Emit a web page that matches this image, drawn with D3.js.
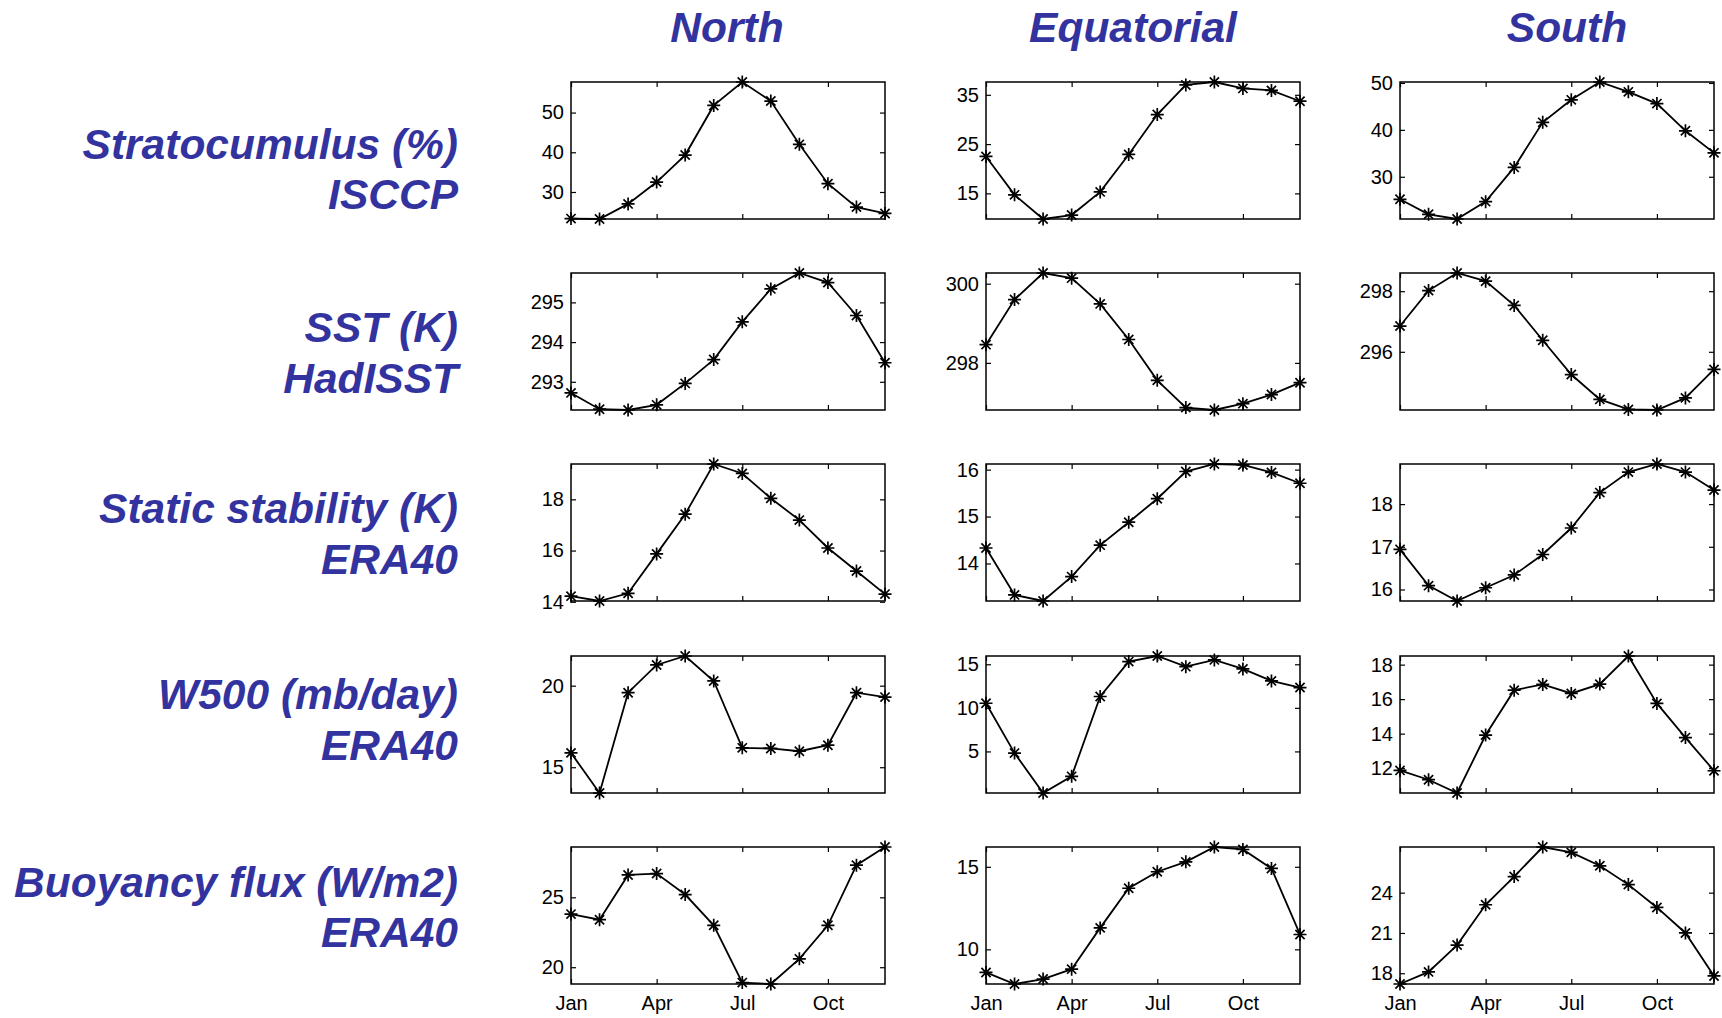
<!DOCTYPE html>
<html>
<head>
<meta charset="utf-8">
<script src="https://cdn.jsdelivr.net/npm/d3@7/dist/d3.min.js"></script>
<style>
  body { margin: 0; background: #fff; }
  svg text { font-family: "Liberation Sans", Arial, Helvetica, sans-serif; }
  .title { font-weight: bold; font-style: italic; fill: #3333a0; font-size: 42.5px; }
  .tick text { font-size: 20px; fill: #000; }
</style>
</head>
<body>
<div id="chart"></div>
<script>
// month axis
var months = ["Jan","Feb","Mar","Apr","May","Jun","Jul","Aug","Sep","Oct","Nov","Dec"];
var monthTicks = ["Jan","Apr","Jul","Oct"];

// column / row labels
var regions = ["North","Equatorial","South"];
var variables = ["Stratocumulus (%)","SST (K)","Static stability (K)","W500 (mb/day)","Buoyancy flux (W/m2)"];
var sources = ["ISCCP","HadISST","ERA40","ERA40","ERA40"];

// seasonal cycles, one array per panel (Jan..Dec)
var stratoNorth = [23.3,23.2,27.0,32.5,39.3,51.8,57.7,52.9,42.0,32.1,26.2,24.6];
var stratoEquatorial = [22.5,14.7,9.8,10.6,15.3,22.9,31.0,37.0,37.6,36.3,35.9,33.7];
var stratoSouth = [25.2,22.0,21.0,24.7,32.0,41.6,46.4,50.2,48.1,45.6,39.8,35.1];

var sstNorth = [292.72,292.31,292.29,292.42,292.96,293.56,294.51,295.34,295.74,295.50,294.67,293.48];
var sstEquatorial = [298.46,299.60,300.27,300.14,299.49,298.59,297.56,296.87,296.81,296.97,297.20,297.50];
var sstSouth = [296.85,298.02,298.60,298.33,297.53,296.38,295.25,294.43,294.10,294.08,294.48,295.42];

var stabNorth = [14.22,14.03,14.33,15.87,17.42,19.38,19.01,18.04,17.19,16.10,15.20,14.30];
var stabEquatorial = [14.33,13.33,13.20,13.72,14.39,14.88,15.38,15.96,16.12,16.10,15.94,15.71];
var stabSouth = [16.94,16.09,15.73,16.04,16.34,16.82,17.44,18.27,18.75,18.94,18.75,18.33];

var w500North = [15.88,13.42,19.57,21.27,21.82,20.29,16.19,16.15,15.98,16.35,19.57,19.30];
var w500Equatorial = [10.53,4.81,0.23,2.14,11.30,15.31,15.95,14.73,15.50,14.47,13.09,12.33];
var w500South = [11.87,11.33,10.56,13.92,16.52,16.85,16.33,16.87,18.50,15.75,13.77,11.85];

var buoyNorth = [23.8,23.4,26.6,26.7,25.2,23.0,18.9,18.8,20.6,23.0,27.3,28.6];
var buoyEquatorial = [8.6,7.9,8.2,8.8,11.3,13.7,14.7,15.3,16.2,16.05,14.9,10.9];
var buoySouth = [17.2,18.1,20.1,23.1,25.2,27.4,27.0,26.0,24.6,22.9,21.0,17.8];

// y tick values per panel
var stratoTicks = [[30,40,50],[15,25,35],[30,40,50]];
var sstTicks = [[293,294,295],[298,300],[296,298]];
var stabTicks = [[14,16,18],[14,15,16],[16,17,18]];
var w500Ticks = [[15,20],[5,10,15],[12,14,16,18]];
var buoyTicks = [[20,25],[10,15],[18,21,24]];

var panels = [
  [stratoNorth, stratoEquatorial, stratoSouth],
  [sstNorth, sstEquatorial, sstSouth],
  [stabNorth, stabEquatorial, stabSouth],
  [w500North, w500Equatorial, w500South],
  [buoyNorth, buoyEquatorial, buoySouth]
];
var panelTicks = [stratoTicks, sstTicks, stabTicks, w500Ticks, buoyTicks];

var width = 1722, height = 1018;
var plotW = 314, plotH = 137;
var colLeft = [571, 986, 1400];
var rowTop = [82, 273, 464, 656, 847];
var titleX = [727, 1133, 1567];
var labelY1 = [144, 327, 508, 694, 882];
var labelY2 = [194, 378, 559, 745, 932];

var svg = d3.select("#chart").append("svg")
    .attr("width", width)
    .attr("height", height);

// column titles
svg.selectAll(".coltitle")
    .data(regions)
    .enter().append("text")
    .attr("class", "title coltitle")
    .attr("x", function(d, i){ return titleX[i]; })
    .attr("y", 27)
    .attr("dy", "0.36em")
    .attr("text-anchor", "middle")
    .text(function(d){ return d; });

// row labels
variables.forEach(function(v, i){
    svg.append("text")
        .attr("class", "title")
        .attr("x", 458)
        .attr("y", labelY1[i])
        .attr("dy", "0.36em")
        .attr("text-anchor", "end")
        .text(v);
    svg.append("text")
        .attr("class", "title")
        .attr("x", 458)
        .attr("y", labelY2[i])
        .attr("dy", "0.36em")
        .attr("text-anchor", "end")
        .text(sources[i]);
});

var x = d3.scalePoint().domain(months).range([0, plotW]);
var fmt = d3.format("~g");

// asterisk marker like matlab '*'
function asterisk(r){
    var d = r * Math.SQRT1_2;
    return "M" + (-r) + ",0L" + r + ",0" +
           "M0," + (-r) + "L0," + r +
           "M" + (-d) + "," + (-d) + "L" + d + "," + d +
           "M" + (-d) + "," + d + "L" + d + "," + (-d);
}

panels.forEach(function(row, i){
    row.forEach(function(values, j){
        var g = svg.append("g")
            .attr("transform", "translate(" + colLeft[j] + "," + rowTop[i] + ")");

        // tight y range like matlab "axis tight"
        var y = d3.scaleLinear()
            .domain(d3.extent(values))
            .range([plotH, 0]);

        var ticks = panelTicks[i][j];

        g.append("g")
            .call(d3.axisLeft(y).tickValues(ticks).tickFormat(fmt).tickSizeInner(-5).tickSizeOuter(0).tickPadding(7))
            .call(function(a){ a.select(".domain").remove(); });
        g.append("g")
            .attr("transform", "translate(" + plotW + ",0)")
            .call(d3.axisRight(y).tickValues(ticks).tickSizeInner(-5).tickSizeOuter(0).tickFormat(""))
            .call(function(a){ a.select(".domain").remove(); });
        g.append("g")
            .call(d3.axisTop(x).tickValues(monthTicks).tickSizeInner(-5).tickSizeOuter(0).tickFormat(""))
            .call(function(a){ a.select(".domain").remove(); });
        var bottom = d3.axisBottom(x).tickValues(monthTicks).tickSizeInner(-5).tickSizeOuter(0).tickPadding(12);
        if (i < panels.length - 1) bottom.tickFormat("");
        g.append("g")
            .attr("transform", "translate(0," + plotH + ")")
            .call(bottom)
            .call(function(a){ a.select(".domain").remove(); });

        g.selectAll(".tick line").attr("stroke", "#000").attr("stroke-width", 1.2);

        g.append("rect")
            .attr("width", plotW)
            .attr("height", plotH)
            .attr("fill", "none")
            .attr("stroke", "#000")
            .attr("stroke-width", 1.5);

        var line = d3.line()
            .x(function(d, k){ return x(months[k]); })
            .y(function(d){ return y(d); });

        g.append("path")
            .datum(values)
            .attr("d", line)
            .attr("fill", "none")
            .attr("stroke", "#000")
            .attr("stroke-width", 1.8);

        g.selectAll(".marker")
            .data(values)
            .enter().append("path")
            .attr("class", "marker")
            .attr("transform", function(d, k){ return "translate(" + x(months[k]) + "," + y(d) + ")"; })
            .attr("d", asterisk(6.5))
            .attr("fill", "none")
            .attr("stroke", "#000")
            .attr("stroke-width", 1.7);
    });
});
</script>
</body>
</html>
